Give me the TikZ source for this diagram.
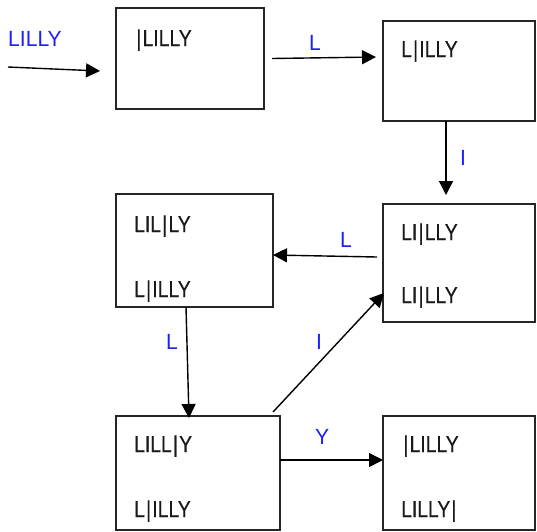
\documentclass[tikz,border=0pt]{standalone}
\usepackage{fontspec}
\usetikzlibrary{arrows.meta,calc}
\newfontfamily\boxfont[FakeStretch=0.84,FakeBold=0.4]{Liberation Sans}
\newfontfamily\labfont[FakeStretch=0.96]{Liberation Sans}
\newcommand{\vb}{\kern1.2pt|\kern1.2pt}
\definecolor{lblue}{RGB}{30,30,250}
\tikzset{
  x=1pt,y=-1pt,
  box/.style={draw=black!85,line width=1.4pt,inner sep=0pt,outer sep=0pt},
  txt/.style={anchor=base west,inner sep=0pt,font=\boxfont\fontsize{23}{23}\selectfont,text=black!90},
  lab/.style={anchor=base west,inner sep=0pt,font=\labfont\fontsize{22}{22}\selectfont,text=lblue},
  conn/.style={line width=1.4pt,-{Triangle[length=14pt,width=14pt]}},
}
\begin{document}
\begin{tikzpicture}
\useasboundingbox (0,0) rectangle (537,531);
% boxes
\node[box,minimum width=148pt,minimum height=101pt] (b1) at (190,58.5) {};
\node[box,minimum width=152pt,minimum height=100pt] (b2) at (459,71) {};
\node[box,minimum width=152pt,minimum height=118pt] (b3) at (459,263) {};
\node[box,minimum width=157pt,minimum height=113pt] (b4) at (194.5,250.5) {};
\node[box,minimum width=164pt,minimum height=114pt] (b5) at (198,473) {};
\node[box,minimum width=152pt,minimum height=114pt] (b6) at (459,473) {};
% box texts
\node[txt] (t1) at (135,46) {\vb LILLY};
\node[txt] (t2) at (401,57) {L\vb ILLY};
\node[txt] (t3a) at (401,240) {LI\vb LLY};
\node[txt] (t3b) at (401,303) {LI\vb LLY};
\node[txt] (t4a) at (134,232) {LIL\vb LY};
\node[txt] (t4b) at (134,297) {L\vb ILLY};
\node[txt] (t5a) at (134,452) {LILL\vb Y};
\node[txt] (t5b) at (134,517) {L\vb ILLY};
\node[txt] (t6a) at (402,452) {\vb LILLY};
\node[txt] (t6b) at (401,517) {LILLY\vb};
% labels
\node[lab] (l0) at (8,46) {LILLY};
\node[lab] (l1) at (309,50) {L};
\node[lab] (l2) at (460,165) {I};
\node[lab] (l3) at (340,247) {L};
\node[lab] (l4) at (166,349) {L};
\node[lab] (l5) at (316,349) {I};
\node[lab] (l6) at (315,444) {Y};
% connectors
\coordinate (in) at (8,67);
\draw[conn] (in) -- ($(b1.west)+(-16,12.5)$);
\draw[conn] ($(b1.east)+(8,0)$) -- ($(b2.west)+(-7,-14)$);
\draw[conn] ($(b2.south)+(-13,0)$) -- ($(b2.south)+(-13,74)$);
\draw[conn] ($(b3.west)+(-6,-6)$) -- ($(b4.east)+(0,4.5)$);
\draw[conn] ($(b4.south)+(-8.5,0)$) -- ($(b5.north)+(-9,2)$);
\draw[conn] ($(b5.north east)+(-7,-4)$) -- ($(b3.west)+(1,30)$);
\draw[conn] ($(b5.east)+(0,-13)$) -- ($(b6.west)+(0,-13)$);
\end{tikzpicture}
\end{document}
